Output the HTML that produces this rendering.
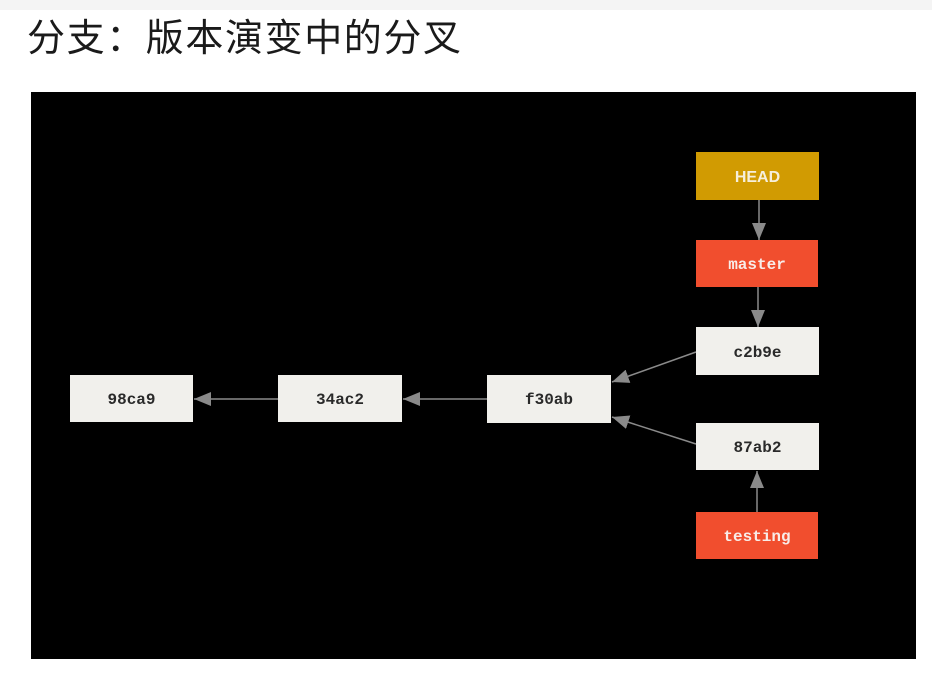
<!DOCTYPE html>
<html>
<head>
<meta charset="utf-8">
<style>
  html, body { margin:0; padding:0; background:#ffffff; }
  body { width:932px; height:675px; position:relative; overflow:hidden; }
  .topbar { position:absolute; left:0; top:0; width:932px; height:10px; background:#f4f4f4; }
  .title { position:absolute; left:27px; top:14px; font-family:"Liberation Sans","Noto Sans CJK SC",sans-serif; font-size:38px; line-height:50px; color:#1a1a1a; letter-spacing:1.6px; white-space:nowrap; }
  svg { position:absolute; left:0; top:0; }
  .mono { font-family:"Liberation Mono","DejaVu Sans Mono",monospace; font-size:16px; font-weight:bold; }
</style>
</head>
<body>
<div class="topbar"></div>
<div class="title">分支：版本演变中的分叉</div>
<svg width="932" height="675" viewBox="0 0 932 675" xmlns="http://www.w3.org/2000/svg">
  <defs>
    <marker id="ah" markerWidth="18" markerHeight="14" refX="17" refY="7" orient="auto" markerUnits="userSpaceOnUse">
      <path d="M0,0 L17,7 L0,14 Z" fill="#8a8a8a"/>
    </marker>
  </defs>
  <rect x="31" y="92" width="885" height="567" fill="#000000"/>

  <!-- connectors -->
  <line x1="278" y1="399" x2="194" y2="399" stroke="#8a8a8a" stroke-width="1.5" marker-end="url(#ah)"/>
  <line x1="487" y1="399" x2="403" y2="399" stroke="#8a8a8a" stroke-width="1.5" marker-end="url(#ah)"/>
  <line x1="696" y1="352" x2="612" y2="382" stroke="#8a8a8a" stroke-width="1.5" marker-end="url(#ah)"/>
  <line x1="696" y1="444" x2="612" y2="417" stroke="#8a8a8a" stroke-width="1.5" marker-end="url(#ah)"/>
  <line x1="759" y1="200" x2="759" y2="240" stroke="#8a8a8a" stroke-width="1.5" marker-end="url(#ah)"/>
  <line x1="758" y1="287" x2="758" y2="327" stroke="#8a8a8a" stroke-width="1.5" marker-end="url(#ah)"/>
  <line x1="757" y1="512" x2="757" y2="471" stroke="#8a8a8a" stroke-width="1.5" marker-end="url(#ah)"/>

  <!-- commit boxes -->
  <rect x="70" y="375" width="123" height="47" fill="#f1f0ec"/>
  <text x="131.5" y="404" text-anchor="middle" class="mono" fill="#2a2a2a">98ca9</text>

  <rect x="278" y="375" width="124" height="47" fill="#f1f0ec"/>
  <text x="340" y="404" text-anchor="middle" class="mono" fill="#2a2a2a">34ac2</text>

  <rect x="487" y="375" width="124" height="48" fill="#f1f0ec"/>
  <text x="549" y="404" text-anchor="middle" class="mono" fill="#2a2a2a">f30ab</text>

  <rect x="696" y="327" width="123" height="48" fill="#f1f0ec"/>
  <text x="757.5" y="357" text-anchor="middle" class="mono" fill="#2a2a2a">c2b9e</text>

  <rect x="696" y="423" width="123" height="47" fill="#f1f0ec"/>
  <text x="757.5" y="452" text-anchor="middle" class="mono" fill="#2a2a2a">87ab2</text>

  <!-- refs -->
  <rect x="696" y="152" width="123" height="48" fill="#d19b02"/>
  <text x="757.5" y="182" text-anchor="middle" font-family="Liberation Sans, sans-serif" font-size="16" font-weight="bold" fill="#f6efdc">HEAD</text>

  <rect x="696" y="240" width="122" height="47" fill="#f14e2e"/>
  <text x="757" y="269" text-anchor="middle" class="mono" fill="#f8ece8">master</text>

  <rect x="696" y="512" width="122" height="47" fill="#f14e2e"/>
  <text x="757" y="541" text-anchor="middle" class="mono" fill="#f8ece8">testing</text>
</svg>
</body>
</html>
